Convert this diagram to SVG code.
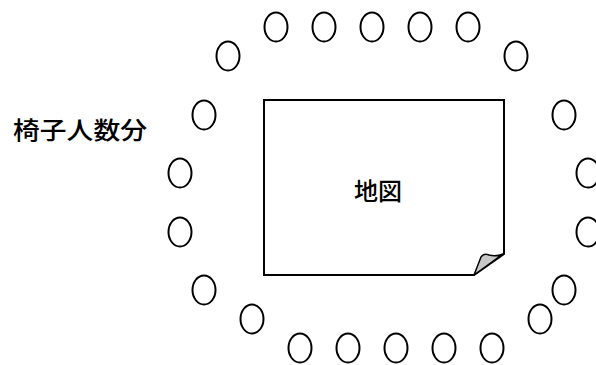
<svg xmlns="http://www.w3.org/2000/svg" width="596" height="365" viewBox="0 0 596 365">
<style>
.seat{fill:#fff;stroke:#000;stroke-width:2}
.lbl{font-family:"Noto Sans CJK JP","Noto Sans CJK SC",sans-serif;font-size:24px;font-weight:500;fill:#000}
</style>
<rect width="596" height="365" fill="#fff"/>
<g id="map">
<path d="M264 100 H504 V254 L474 275 H264 Z" fill="#fff" stroke="#000" stroke-width="2"/>
<path d="M503 254 L474 275 L481 257 Q484 253 489 255 Q496 257 503 254 Z" fill="#c8c8c8" stroke="#000" stroke-width="1.5" stroke-linejoin="round"/>
<text class="lbl" x="378" y="200" text-anchor="middle">地図</text>
</g>
<g id="label">
<text class="lbl" x="13" y="139" textLength="134" lengthAdjust="spacingAndGlyphs">椅子人数分</text>
</g>
<g id="seats">
<ellipse class="seat" cx="276" cy="27" rx="11.5" ry="14.5"/>
<ellipse class="seat" cx="324" cy="27" rx="11.5" ry="14.5"/>
<ellipse class="seat" cx="372" cy="27" rx="11.5" ry="14.5"/>
<ellipse class="seat" cx="420" cy="27" rx="11.5" ry="14.5"/>
<ellipse class="seat" cx="468" cy="27" rx="11.5" ry="14.5"/>
<ellipse class="seat" cx="228" cy="56" rx="11.5" ry="14.5"/>
<ellipse class="seat" cx="516" cy="56" rx="11.5" ry="14.5"/>
<ellipse class="seat" cx="204" cy="115" rx="11.5" ry="14.5"/>
<ellipse class="seat" cx="180" cy="173" rx="11.5" ry="14.5"/>
<ellipse class="seat" cx="180" cy="232" rx="11.5" ry="14.5"/>
<ellipse class="seat" cx="204" cy="290" rx="11.5" ry="14.5"/>
<ellipse class="seat" cx="252" cy="319" rx="11.5" ry="14.5"/>
<ellipse class="seat" cx="564" cy="115" rx="11.5" ry="14.5"/>
<ellipse class="seat" cx="588" cy="173" rx="11.5" ry="14.5"/>
<ellipse class="seat" cx="588" cy="232" rx="11.5" ry="14.5"/>
<ellipse class="seat" cx="564" cy="290" rx="11.5" ry="14.5"/>
<ellipse class="seat" cx="540" cy="319" rx="11.5" ry="14.5"/>
<ellipse class="seat" cx="300" cy="348" rx="11.5" ry="14.5"/>
<ellipse class="seat" cx="348" cy="348" rx="11.5" ry="14.5"/>
<ellipse class="seat" cx="396" cy="348" rx="11.5" ry="14.5"/>
<ellipse class="seat" cx="444" cy="348" rx="11.5" ry="14.5"/>
<ellipse class="seat" cx="492" cy="348" rx="11.5" ry="14.5"/>
</g>
</svg>
